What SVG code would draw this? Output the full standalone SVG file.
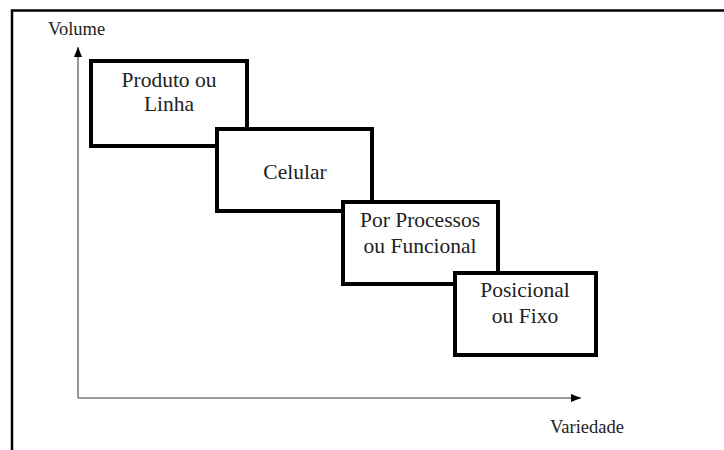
<svg xmlns="http://www.w3.org/2000/svg" width="724" height="450" viewBox="0 0 724 450">
<style>
.frame{stroke:#000;stroke-width:2.5;fill:none}
.axis{stroke:#7a7a7a;stroke-width:1.6;fill:none}
.box{fill:#fff;stroke:#000;stroke-width:4}
.lbl{font-family:'Liberation Serif','Times New Roman',serif;fill:#222}
.bt{font-size:21.5px;text-anchor:middle}
.at{font-size:18.5px}
</style>
<defs>
<marker id="ah" markerWidth="10" markerHeight="8" refX="10" refY="4" orient="auto" markerUnits="userSpaceOnUse">
<path d="M0,0 L10,4 L0,8 Z" fill="#000"/>
</marker>
</defs>
<rect width="724" height="450" fill="#fff"/>
<path class="frame" d="M12,450 V10.5 H724"/>
<g id="connectors">
<path class="axis" d="M78,398 V47" marker-end="url(#ah)"/>
<path class="axis" d="M78,398 H581" marker-end="url(#ah)"/>
</g>
<g id="volume"><text class="lbl at" x="48" y="35">Volume</text></g>
<g id="variedade"><text class="lbl at" x="550" y="433">Variedade</text></g>
<g id="produto">
<rect class="box" x="91" y="61" width="156" height="85"/>
<text class="lbl bt" x="169" y="87">Produto ou</text>
<text class="lbl bt" x="169" y="111">Linha</text>
</g>
<g id="celular">
<rect class="box" x="217" y="129" width="155" height="82"/>
<text class="lbl bt" x="295" y="179">Celular</text>
</g>
<g id="processos">
<rect class="box" x="343" y="202" width="155" height="82"/>
<text class="lbl bt" x="420" y="227">Por Processos</text>
<text class="lbl bt" x="420" y="253">ou Funcional</text>
</g>
<g id="posicional">
<rect class="box" x="455" y="273" width="141" height="82"/>
<text class="lbl bt" x="525" y="297">Posicional</text>
<text class="lbl bt" x="525" y="323">ou Fixo</text>
</g>
</svg>
